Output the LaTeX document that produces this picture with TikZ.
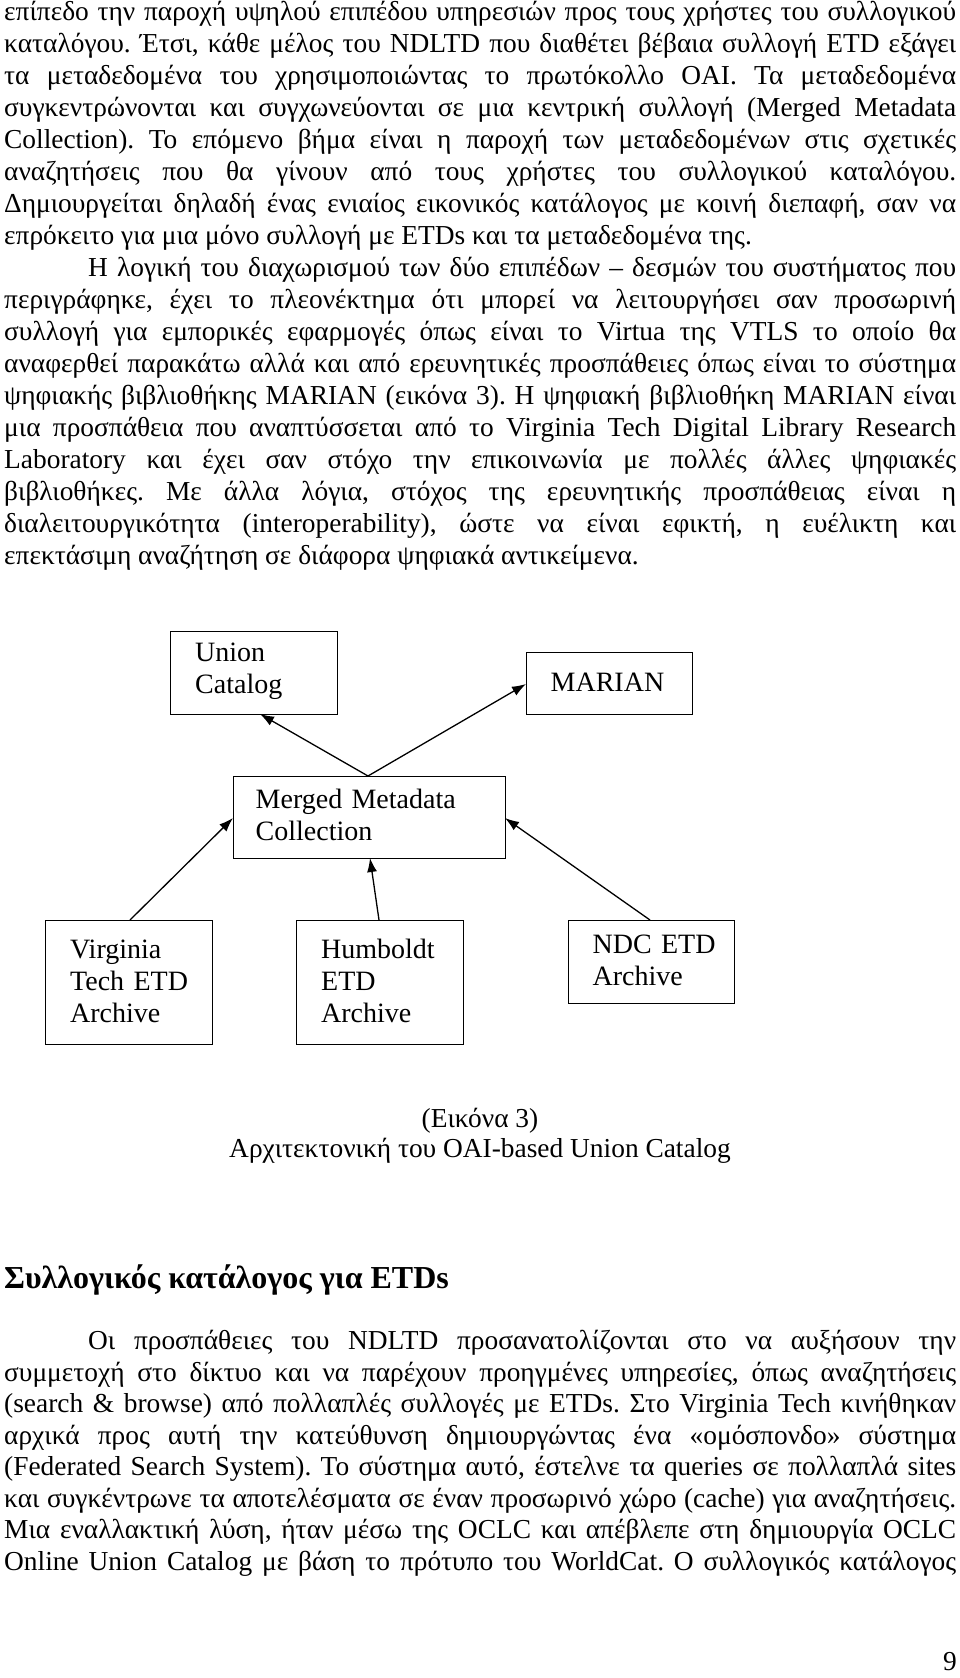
\documentclass[tikz,border=0pt]{standalone}
\usepackage{fontspec}
\setmainfont{Liberation Serif}
\usetikzlibrary{arrows.meta}
\frenchspacing

\tikzset{
  line/.style={anchor=west, inner sep=0pt, font=\fontsize{27.4}{32}\selectfont},
  box/.style={draw, line width=1.4pt, anchor=north west, align=left, inner sep=0pt,
    font=\fontsize{28}{32}\selectfont},
  feed/.style={line width=1.3pt, -{Latex[length=14pt,width=10pt]}}
}
\newcommand{\jl}[1]{\makebox[952pt][s]{#1}}

\begin{document}
\begin{tikzpicture}[x=1pt, y=-1pt]
    \useasboundingbox[fill=white] (0,0) rectangle (960,1678);

    % Text above the figure
    \node[line] (t0) at (4,14) {\jl{επίπεδο την παροχή υψηλού επιπέδου υπηρεσιών προς τους χρήστες του συλλογικού}};
    \node[line] (t1) at (4,46) {\jl{καταλόγου. Έτσι, κάθε μέλος του NDLTD που διαθέτει βέβαια συλλογή ETD εξάγει}};
    \node[line] (t2) at (4,78) {\jl{τα μεταδεδομένα του χρησιμοποιώντας το πρωτόκολλο OAI. Τα μεταδεδομένα}};
    \node[line] (t3) at (4,110) {\jl{συγκεντρώνονται και συγχωνεύονται σε μια κεντρική συλλογή (Merged Metadata}};
    \node[line] (t4) at (4,142) {\jl{Collection). Το επόμενο βήμα είναι η παροχή των μεταδεδομένων στις σχετικές}};
    \node[line] (t5) at (4,174) {\jl{αναζητήσεις που θα γίνουν από τους χρήστες του συλλογικού καταλόγου.}};
    \node[line] (t6) at (4,206) {\jl{Δημιουργείται δηλαδή ένας ενιαίος εικονικός κατάλογος με κοινή διεπαφή, σαν να}};
    \node[line] (t7) at (4,238) {επρόκειτο για μια μόνο συλλογή με ETDs και τα μεταδεδομένα της.};
    \node[line] (t8) at (4,270) {\hspace*{84pt}\makebox[868pt][s]{Η λογική του διαχωρισμού των δύο επιπέδων – δεσμών του συστήματος που}};
    \node[line] (t9) at (4,302) {\jl{περιγράφηκε, έχει το πλεονέκτημα ότι μπορεί να λειτουργήσει σαν προσωρινή}};
    \node[line] (t10) at (4,334) {\jl{συλλογή για εμπορικές εφαρμογές όπως είναι το Virtua της VTLS το οποίο θα}};
    \node[line] (t11) at (4,366) {\jl{αναφερθεί παρακάτω αλλά και από ερευνητικές προσπάθειες όπως είναι το σύστημα}};
    \node[line] (t12) at (4,398) {\jl{ψηφιακής βιβλιοθήκης MARIAN (εικόνα 3). Η ψηφιακή βιβλιοθήκη MARIAN είναι}};
    \node[line] (t13) at (4,430) {\jl{μια προσπάθεια που αναπτύσσεται από το Virginia Tech Digital Library Research}};
    \node[line] (t14) at (4,462) {\jl{Laboratory και έχει σαν στόχο την επικοινωνία με πολλές άλλες ψηφιακές}};
    \node[line] (t15) at (4,494) {\jl{βιβλιοθήκες. Με άλλα λόγια, στόχος της ερευνητικής προσπάθειας είναι η}};
    \node[line] (t16) at (4,526) {\jl{διαλειτουργικότητα (interoperability), ώστε να είναι εφικτή, η ευέλικτη και}};
    \node[line] (t17) at (4,558) {επεκτάσιμη αναζήτηση σε διάφορα ψηφιακά αντικείμενα.};

    % Boxes
    \node[box, minimum width=167pt, minimum height=83pt, text width=150pt] (union) at (170,631)
        {\\[-18pt]\hspace*{16pt}Union\\\hspace*{16pt}Catalog};
    \node[box, minimum width=166pt, minimum height=62pt, text width=150pt] (marian) at (526,652)
        {\\[-16pt]\hspace*{16pt}MARIAN};
    \node[box, minimum width=272pt, minimum height=82pt, text width=260pt] (merged) at (233,776)
        {\\[-18pt]\hspace*{16pt}Merged Metadata\\\hspace*{16pt}Collection};
    \node[box, minimum width=167pt, minimum height=124pt, text width=150pt] (vt) at (45,920)
        {\\[-16pt]\hspace*{16pt}Virginia\\\hspace*{16pt}Tech ETD\\\hspace*{16pt}Archive};
    \node[box, minimum width=167pt, minimum height=124pt, text width=150pt] (hu) at (296,920)
        {\\[-16pt]\hspace*{16pt}Humboldt\\\hspace*{16pt}ETD\\\hspace*{16pt}Archive};
    \node[box, minimum width=166pt, minimum height=83pt, text width=150pt] (ndc) at (568,920)
        {\\[-18pt]\hspace*{16pt}NDC ETD\\\hspace*{16pt}Archive};

    % Arrows
    \coordinate (mtop) at (368,776);
    \draw[feed] (mtop) -- (260,714);
    \draw[feed] (mtop) -- (526,684);
    \draw[feed] (130,920) -- (233,818);
    \draw[feed] (379,920) -- (370,858);
    \draw[feed] (650,920) -- (505,818);

    % Caption
    \node[line, anchor=center] (cap1) at (480,1121) {(Εικόνα 3)};
    \node[line, anchor=center] (cap2) at (480,1151) {Αρχιτεκτονική του OAI-based Union Catalog};

    % Heading and text below
    \node[anchor=west, inner sep=0pt, font=\fontsize{32}{36}\selectfont\bfseries] (head) at (4,1280)
        {Συλλογικός κατάλογος για ETDs};
    \node[line] (b0) at (4,1343) {\hspace*{84pt}\makebox[868pt][s]{Οι προσπάθειες του NDLTD προσανατολίζονται στο να αυξήσουν την}};
    \node[line] (b1) at (4,1375) {\jl{συμμετοχή στο δίκτυο και να παρέχουν προηγμένες υπηρεσίες, όπως αναζητήσεις}};
    \node[line] (b2) at (4,1406) {\jl{(search \& browse) από πολλαπλές συλλογές με ETDs. Στο Virginia Tech κινήθηκαν}};
    \node[line] (b3) at (4,1438) {\jl{αρχικά προς αυτή την κατεύθυνση δημιουργώντας ένα «ομόσπονδο» σύστημα}};
    \node[line] (b4) at (4,1469) {\jl{(Federated Search System). Το σύστημα αυτό, έστελνε τα queries σε πολλαπλά sites}};
    \node[line] (b5) at (4,1501) {\jl{και συγκέντρωνε τα αποτελέσματα σε έναν προσωρινό χώρο (cache) για αναζητήσεις.}};
    \node[line] (b6) at (4,1532) {\jl{Μια εναλλακτική λύση, ήταν μέσω της OCLC και απέβλεπε στη δημιουργία OCLC}};
    \node[line] (b7) at (4,1564) {\jl{Online Union Catalog με βάση το πρότυπο του WorldCat. Ο συλλογικός κατάλογος}};

    \node[line, anchor=east] (page) at (957,1662) {9};
\end{tikzpicture}
\end{document}
